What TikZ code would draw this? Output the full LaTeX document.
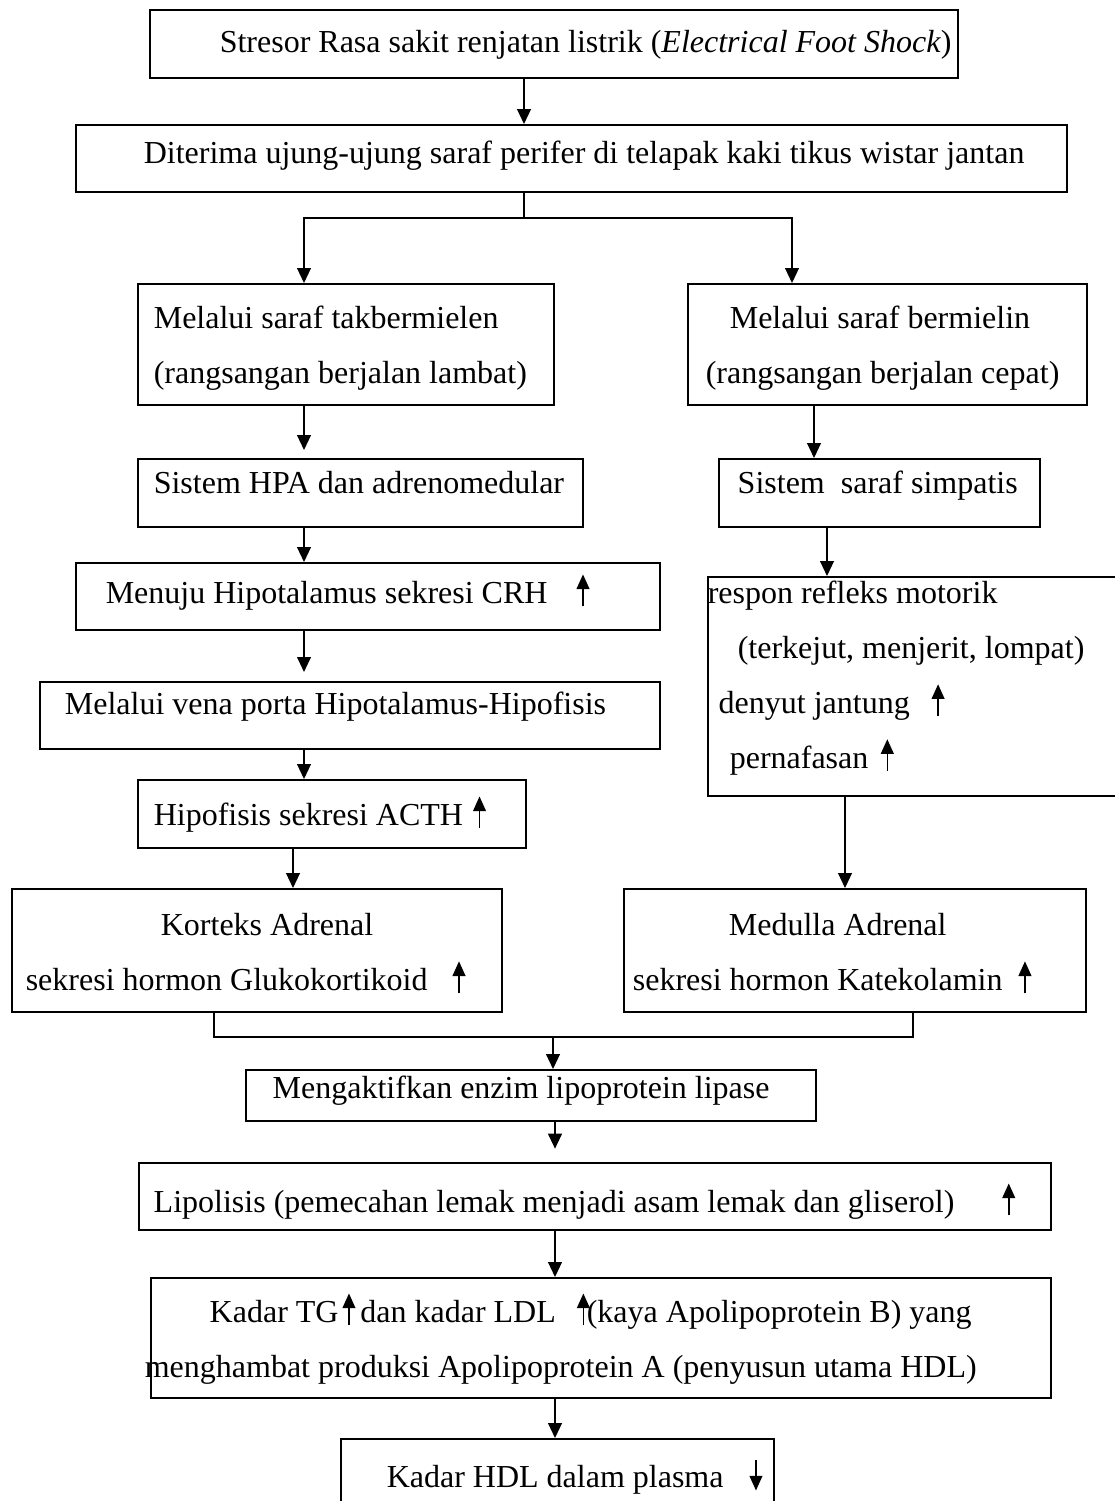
\documentclass[tikz,border=0pt]{standalone}
\usepackage{fontspec}
\setmainfont{Liberation Serif}
\usetikzlibrary{arrows.meta}

\newcommand{\naik}{\tikz[baseline=0pt]\draw[line width=0.6pt, -{Triangle[length=5.5pt, width=4.8pt]}] (0,-1pt) -- (0,11pt);}
\newcommand{\turun}{\tikz[baseline=0pt]\draw[line width=0.6pt, -{Triangle[length=5.5pt, width=4.8pt]}] (0,10.5pt) -- (0,-1pt);}

\tikzset{
  box/.style={draw, line width=0.6pt, anchor=north west, inner xsep=0pt, inner ysep=0pt,
    align=flush left, font=\fontsize{12}{20.6}\selectfont},
  arr/.style={line width=0.5pt, -{Triangle[length=5.6pt, width=5.2pt]}},
  lin/.style={line width=0.5pt}
}

\begin{document}
\begin{tikzpicture}[x=0.375pt, y=-0.375pt]
\useasboundingbox (0,0) rectangle (1114,1501);

% kotak
\node[box, text width=303pt, minimum height=25.5pt, text height=9.75pt, text depth=3pt] (stresor) at (149,9)
  {\hspace*{26.25pt}Stresor Rasa sakit renjatan listrik (\textit{Electrical Foot Shock})};
\node[box, text width=371.6pt, minimum height=25.1pt, text height=7.1pt, text depth=3pt] (diterima) at (75,124)
  {\hspace*{25.5pt}Diterima ujung-ujung saraf perifer di telapak kaki tikus wistar jantan};
\node[box, text width=156pt, minimum height=45.4pt, text height=3pt, text depth=14.6pt] (takmielin) at (137,283)
  {\hspace*{6pt}Melalui saraf takbermielen\\\hspace*{6pt}(rangsangan berjalan lambat)};
\node[box, text width=149.6pt, minimum height=45.4pt, text height=3pt, text depth=14.6pt] (mielin) at (687,283)
  {\hspace*{15.75pt}Melalui saraf bermielin\\\hspace*{6.75pt}(rangsangan berjalan cepat)};
\node[box, text width=166.9pt, minimum height=25.5pt, text height=3.75pt, text depth=3pt] (hpa) at (137,458)
  {\hspace*{6pt}Sistem HPA dan adrenomedular};
\node[box, text width=120.4pt, minimum height=25.5pt, text height=3.75pt, text depth=3pt] (simpatis) at (718,458)
  {\hspace*{7.1pt}Sistem\ \ saraf simpatis};
\node[box, text width=219pt, minimum height=25.1pt, text height=8.6pt, text depth=3pt] (crh) at (75,562)
  {\hspace*{11.25pt}Menuju Hipotalamus sekresi CRH\hspace{10.9pt}\naik};
\node[box, text width=154.9pt, minimum height=82.1pt, text height=3pt, text depth=64.9pt] (refleks) at (707,576)
  {respon refleks motorik\\
   \hspace*{11.25pt}(terkejut, menjerit, lompat)\\
   \hspace*{4.1pt}denyut jantung\hspace{8.2pt}\naik\\
   \hspace*{8.25pt}pernafasan\hspace{4.7pt}\naik};
\node[box, text width=232.5pt, minimum height=25.1pt, text height=2.6pt, text depth=3pt] (vena) at (39,681)
  {\hspace*{9.4pt}Melalui vena porta Hipotalamus-Hipofisis};
\node[box, text width=145.5pt, minimum height=25.5pt, text height=12pt, text depth=3pt] (acth) at (137,779)
  {\hspace*{6pt}Hipofisis sekresi ACTH\hspace{3.75pt}\naik};
\node[box, text width=183.75pt, minimum height=46.1pt, text height=3pt, text depth=13.9pt] (korteks) at (11,888)
  {\hspace*{55.9pt}Korteks Adrenal\\\hspace*{5.25pt}sekresi hormon Glukokortikoid\hspace{9.4pt}\naik};
\node[box, text width=173.25pt, minimum height=46.1pt, text height=3pt, text depth=13.9pt] (medulla) at (623,888)
  {\hspace*{39.4pt}Medulla Adrenal\\\hspace*{3.4pt}sekresi hormon Katekolamin\hspace{6pt}\naik};
\node[box, text width=213.75pt, minimum height=19.1pt, text height=5.6pt, text depth=3pt] (lipase) at (245,1069)
  {\hspace*{10.1pt}Mengaktifkan enzim lipoprotein lipase};
\node[box, text width=342pt, minimum height=25.1pt, text height=15.4pt, text depth=3pt] (lipolisis) at (138,1162)
  {\hspace*{5.6pt}Lipolisis (pemecahan lemak menjadi asam lemak dan gliserol)\hspace{18pt}\naik};
\node[box, text width=337.5pt, minimum height=45pt, text height=3pt, text depth=14.25pt] (kadar) at (150,1277)
  {\hspace*{22.1pt}Kadar TG\hspace{1.5pt}\naik\hspace{1.9pt}dan kadar LDL\hspace{7.9pt}\naik\hspace{-1.1pt}(kaya Apolipoprotein B) yang\\
   \hspace*{-2.25pt}menghambat produksi Apolipoprotein A (penyusun utama HDL)};
\node[box, text width=162.4pt, minimum height=30.75pt, text height=9pt, text depth=3pt] (hdl) at (340,1438)
  {\hspace*{17.25pt}Kadar HDL dalam plasma\hspace{9.75pt}\turun};

% kolom panah
\coordinate (kT) at (524,218);
\coordinate (kL) at (304,0);
\coordinate (kK) at (293,0);
\coordinate (kR) at (792,0);
\coordinate (kS) at (814,0);
\coordinate (kM) at (827,0);
\coordinate (kN) at (845,0);
\coordinate (gL) at (214,1037);
\coordinate (gR) at (913,1037);
\coordinate (gC) at (553,1037);
\coordinate (kB) at (555,0);

% panah
\draw[arr] (stresor.south -| kT) -- (diterima.north -| kT);
\draw[lin] (diterima.south -| kT) -- (kT);
\draw[arr] (kT) -| (takmielin.north -| kL);
\draw[arr] (kT) -| (mielin.north -| kR);
\draw[arr, shorten >=3pt] (takmielin.south -| kL) -- (hpa.north -| kL);
\draw[arr] (hpa.south -| kL) -- (crh.north -| kL);
\draw[arr, shorten >=3.4pt] (crh.south -| kL) -- (vena.north -| kL);
\draw[arr] (vena.south -| kL) -- (acth.north -| kL);
\draw[arr] (acth.south -| kK) -- (korteks.north -| kK);
\draw[arr] (mielin.south -| kS) -- (simpatis.north -| kS);
\draw[arr] (simpatis.south -| kM) -- (refleks.north -| kM);
\draw[arr] (refleks.south -| kN) -- (medulla.north -| kN);
\draw[lin] (korteks.south -| gL) -- (gL) -- (gR) -- (medulla.south -| gR);
\draw[arr] (gC) -- (lipase.north -| gC);
\draw[arr, shorten >=5pt] (lipase.south -| kB) -- (lipolisis.north -| kB);
\draw[arr] (lipolisis.south -| kB) -- (kadar.north -| kB);
\draw[arr] (kadar.south -| kB) -- (hdl.north -| kB);
\end{tikzpicture}
\end{document}
